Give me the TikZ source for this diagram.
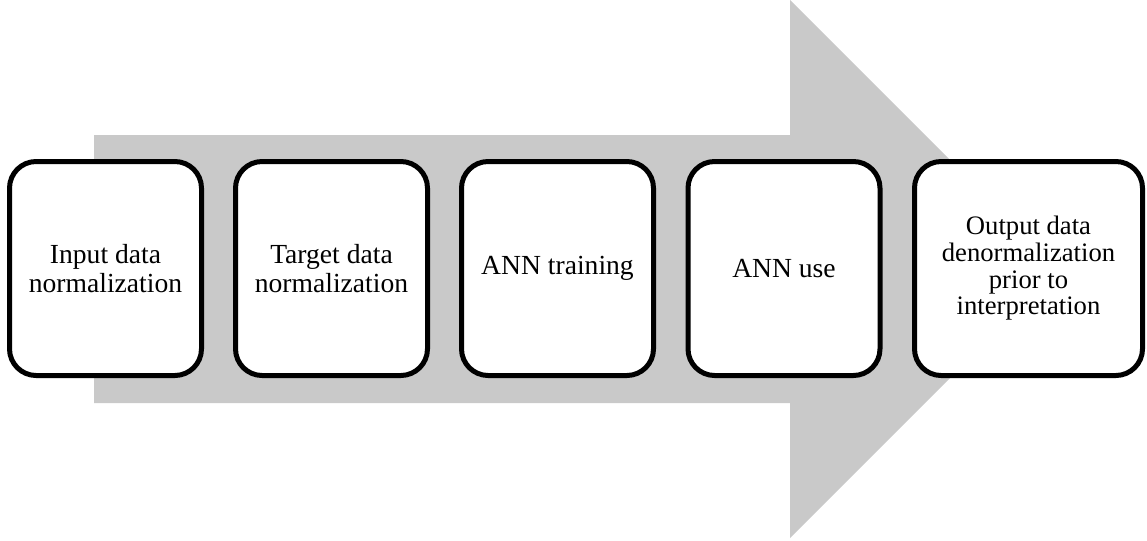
\documentclass[tikz,border=0pt]{standalone}
\usepackage{fontspec}
\setmainfont{Liberation Serif}
\definecolor{flowgray}{RGB}{201,201,201}
\begin{document}
\begin{tikzpicture}[x=0.75pt,y=-0.75pt,
  stagebox/.style={draw=black, line width=3.75pt, fill=white, rounded corners=20pt,
    minimum width=144pt, minimum height=160.5pt, inner sep=0pt, align=center,
    font=\fontsize{20.7}{21.2}\selectfont},
  widebox/.style={stagebox, minimum width=171pt, font=\fontsize{20}{20}\selectfont}]
  \useasboundingbox (0,0) rectangle (1147,540);
  % background block arrow
  \fill[flowgray] (94,135) -- (790,135) -- (790,0) -- (1059,269) -- (790,538)
    -- (790,403) -- (94,403) -- cycle;
  % process stages
  \node[stagebox] (s1) at (105.5,268.5) {Input data\\normalization};
  \node[stagebox] (s2) at (331.5,268.5) {Target data\\normalization};
  \node[stagebox] (s3) at (557.5,268.5) {ANN training};
  \node[stagebox] (s4) at (784,268.5) {ANN use};
  \node[widebox] (s5) at (1028.5,268.5) {Output data\\denormalization\\prior to\\interpretation};
\end{tikzpicture}
\end{document}
